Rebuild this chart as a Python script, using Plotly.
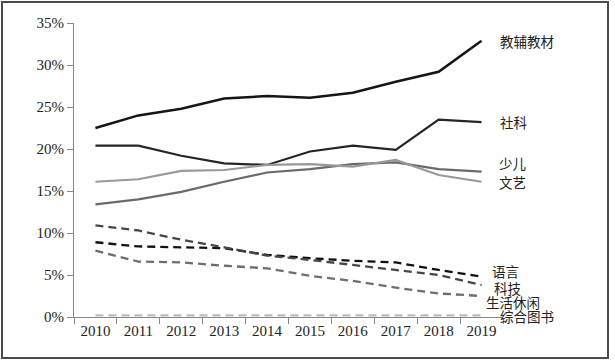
import plotly.graph_objects as go

years = ["2010", "2011", "2012", "2013", "2014", "2015", "2016", "2017", "2018", "2019"]

jiaofu = [22.5, 24.0, 24.8, 26.0, 26.3, 26.1, 26.7, 28.0, 29.2, 32.9]
sheke = [20.4, 20.4, 19.2, 18.3, 18.1, 19.7, 20.4, 19.9, 23.5, 23.2]
shaoer = [13.4, 14.0, 14.9, 16.1, 17.2, 17.6, 18.2, 18.4, 17.6, 17.3]
wenyi = [16.1, 16.4, 17.4, 17.5, 18.1, 18.2, 17.9, 18.7, 16.9, 16.1]
yuyan = [8.9, 8.4, 8.3, 8.2, 7.4, 7.0, 6.7, 6.5, 5.6, 4.8]
keji = [10.9, 10.3, 9.2, 8.3, 7.3, 6.8, 6.2, 5.6, 5.0, 3.8]
shenghuo = [7.9, 6.6, 6.5, 6.1, 5.8, 4.9, 4.3, 3.5, 2.8, 2.5]
zonghe = [0.2, 0.2, 0.2, 0.2, 0.2, 0.2, 0.2, 0.2, 0.2, 0.2]

y_ticks = [0, 5, 10, 15, 20, 25, 30, 35]

series = [
    ("教辅教材", jiaofu, "#151515", 2.5, "solid"),
    ("社科", sheke, "#252525", 2.2, "solid"),
    ("少儿", shaoer, "#6a6a6a", 2.2, "solid"),
    ("文艺", wenyi, "#999999", 2.2, "solid"),
    ("语言", yuyan, "#111111", 2.3, "8px,5px"),
    ("科技", keji, "#474747", 2.3, "8px,5px"),
    ("生活休闲", shenghuo, "#6e6e6e", 2.3, "8px,5px"),
    ("综合图书", zonghe, "#bdbdbd", 2.3, "8px,5px"),
]

fig = go.Figure()
for name, vals, color, w, dash in series:
    fig.add_trace(go.Scatter(x=years, y=vals, mode="lines", name=name,
                             line=dict(color=color, width=w, dash=dash)))

# label placement: (text, left pixel, value)
labels = [
    ("教辅教材", 498, 32.8),
    ("社科", 498, 23.2),
    ("少儿", 497, 18.3),
    ("文艺", 497, 16.05),
    ("语言", 490, 5.5),
    ("科技", 492, 3.5),
    ("生活休闲", 484, 1.8),
    ("综合图书", 498, 0.1),
]
L, R, T, B = 74, 112, 23, 46
PW = 615 - L - R
PH = 363 - T - B
for txt, px, val in labels:
    fig.add_annotation(x=(px - L) / PW, xref="paper", y=val, yref="y",
                       text=txt, showarrow=False, xanchor="left", yanchor="middle",
                       font=dict(size=13.5, color="#222222",
                                 family="Noto Sans CJK SC, Liberation Serif"))

fig.add_shape(type="rect", xref="paper", yref="paper",
              x0=(2 - L) / PW, x1=(608 - L) / PW,
              y0=(PH + T - 358) / PH, y1=(PH + T - 2) / PH,
              line=dict(color="#4a4a4a", width=2), fillcolor="rgba(0,0,0,0)", layer="above")

fig.update_layout(
    width=615, height=363,
    margin=dict(l=L, r=R, t=T, b=B),
    paper_bgcolor="white", plot_bgcolor="white",
    showlegend=False,
    font=dict(family="Liberation Serif, Noto Sans CJK SC", size=15, color="#222222"),
)
fig.update_xaxes(type="category", range=[-0.5, 9.5], showline=True, linecolor="#888888",
                 linewidth=1, ticks="outside", ticklen=6, tickcolor="#888888",
                 tickson="boundaries", showgrid=False, zeroline=False,
                 tickfont=dict(size=15, family="Liberation Serif"))
fig.update_yaxes(range=[0, 35], tickvals=y_ticks, ticktext=[f"{v}%" for v in y_ticks],
                 showline=True, linecolor="#888888", linewidth=1, ticks="outside",
                 ticklen=6, tickcolor="#888888", showgrid=False, zeroline=False,
                 tickfont=dict(size=15, family="Liberation Serif"))

fig.write_html("out.html", config={"displayModeBar": False},
               post_script="document.body.style.margin='0';document.body.style.overflow='hidden';")
